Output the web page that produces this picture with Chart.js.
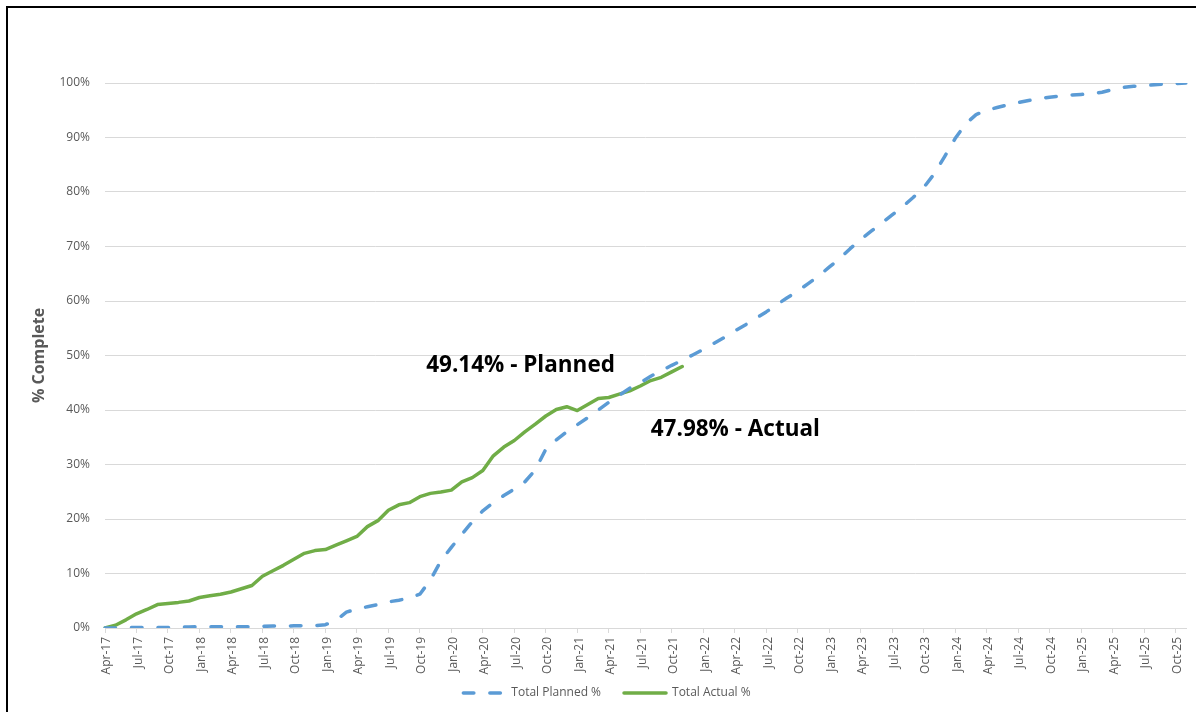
<!DOCTYPE html>
<html><head><meta charset="utf-8">
<script src="https://cdn.jsdelivr.net/npm/chart.js@4.4.1/dist/chart.umd.min.js"></script>
<style>html,body{margin:0;padding:0;background:#fff;}canvas{display:block;}</style>
</head><body>
<canvas id="c" width="1196" height="712"></canvas>
<script>
const categories = [
 'Apr-17','May-17','Jun-17','Jul-17','Aug-17','Sep-17','Oct-17','Nov-17','Dec-17',
 'Jan-18','Feb-18','Mar-18','Apr-18','May-18','Jun-18','Jul-18','Aug-18','Sep-18','Oct-18','Nov-18','Dec-18',
 'Jan-19','Feb-19','Mar-19','Apr-19','May-19','Jun-19','Jul-19','Aug-19','Sep-19','Oct-19','Nov-19','Dec-19',
 'Jan-20','Feb-20','Mar-20','Apr-20','May-20','Jun-20','Jul-20','Aug-20','Sep-20','Oct-20','Nov-20','Dec-20',
 'Jan-21','Feb-21','Mar-21','Apr-21','May-21','Jun-21','Jul-21','Aug-21','Sep-21','Oct-21','Nov-21','Dec-21',
 'Jan-22','Feb-22','Mar-22','Apr-22','May-22','Jun-22','Jul-22','Aug-22','Sep-22','Oct-22','Nov-22','Dec-22',
 'Jan-23','Feb-23','Mar-23','Apr-23','May-23','Jun-23','Jul-23','Aug-23','Sep-23','Oct-23','Nov-23','Dec-23',
 'Jan-24','Feb-24','Mar-24','Apr-24','May-24','Jun-24','Jul-24','Aug-24','Sep-24','Oct-24','Nov-24','Dec-24',
 'Jan-25','Feb-25','Mar-25','Apr-25','May-25','Jun-25','Jul-25','Aug-25','Sep-25','Oct-25','Nov-25'
];
const tickLabels = [
 'Apr-17','Jul-17','Oct-17','Jan-18','Apr-18','Jul-18','Oct-18','Jan-19','Apr-19','Jul-19','Oct-19',
 'Jan-20','Apr-20','Jul-20','Oct-20','Jan-21','Apr-21','Jul-21','Oct-21','Jan-22','Apr-22','Jul-22','Oct-22',
 'Jan-23','Apr-23','Jul-23','Oct-23','Jan-24','Apr-24','Jul-24','Oct-24','Jan-25','Apr-25','Jul-25','Oct-25'
];
const plannedPct = [
 0, 0, 0.05, 0.1, 0.1, 0.1, 0.1, 0.15, 0.2,
 0.25, 0.25, 0.25, 0.25, 0.25, 0.25, 0.3, 0.35, 0.35, 0.4, 0.4, 0.45,
 0.6, 1.4, 2.9, 3.5, 3.9, 4.3, 4.8, 5.1, 5.5, 6.2, 8.8, 12.3,
 14.8, 17.2, 19.5, 21.5, 23.0, 24.3, 25.5, 26.8, 29.0, 32.8, 34.5, 36.0,
 37.3, 38.6, 40.0, 41.4, 42.7, 44.0, 45.0, 46.2, 47.2, 48.2, 49.14, 50.1,
 51.1, 52.2, 53.3, 54.5, 55.6, 56.8, 58.0, 59.3, 60.6, 61.8, 63.2, 64.6,
 66.2, 67.8, 69.6, 71.3, 72.8, 74.3, 75.8, 77.3, 79.0, 80.8, 83.3, 86.5,
 89.8, 92.5, 94.2, 95.0, 95.5, 96.0, 96.4, 96.8, 97.1, 97.4, 97.6, 97.8,
 97.9, 98.0, 98.3, 98.8, 99.2, 99.4, 99.5, 99.7, 99.8, 99.9, 100
];
const actualPct = [
 0, 0.5, 1.5, 2.6, 3.4, 4.3, 4.5, 4.7, 4.95,
 5.6, 5.9, 6.2, 6.6, 7.2, 7.8, 9.5, 10.5, 11.5, 12.6, 13.7, 14.2,
 14.4, 15.2, 16.0, 16.8, 18.6, 19.7, 21.6, 22.6, 23.0, 24.1, 24.7, 24.95,
 25.3, 26.8, 27.6, 28.9, 31.6, 33.2, 34.4, 36.0, 37.4, 38.9, 40.1, 40.6,
 39.9, 41.0, 42.1, 42.3, 42.9, 43.5, 44.4, 45.4, 46.0, 47.0, 47.98
];
const seriesNames = ['Total Planned %', 'Total Actual %'];
const notes = [
  {text: '49.14% - Planned', at: 30.6, value: 47.0},
  {text: '47.98% - Actual', at: 52.0, value: 35.2}
];

const FONT = "'Open Sans', sans-serif";
const GREY = '#595959';

const framePlugin = {
  id: 'frame',
  beforeDraw(chart) {
    const ctx = chart.ctx;
    ctx.save();
    ctx.fillStyle = '#fff';
    ctx.fillRect(0, 0, chart.width, chart.height);
    ctx.strokeStyle = '#000';
    ctx.lineWidth = 2;
    ctx.beginPath();
    ctx.moveTo(7, chart.height + 5);
    ctx.lineTo(7, 7);
    ctx.lineTo(chart.width + 5, 7);
    ctx.stroke();
    ctx.restore();
  }
};
const notePlugin = {
  id: 'notes',
  afterDatasetsDraw(chart) {
    const ctx = chart.ctx, xs = chart.scales.x, ys = chart.scales.y;
    ctx.save();
    ctx.font = "bold 22.5px " + FONT;
    ctx.fillStyle = '#000';
    ctx.textAlign = 'left';
    ctx.textBaseline = 'alphabetic';
    notes.forEach(n => ctx.fillText(n.text, xs.getPixelForValue(n.at), ys.getPixelForValue(n.value)));
    ctx.restore();
  }
};
const legendShift = {
  id: 'legendShift',
  afterLayout(chart) {
    const lg = chart.legend;
    const h = lg.bottom - lg.top;
    lg.left += 10;
    lg.right += 10;
    lg.top = 664;
    lg.bottom = 664 + h;
  }
};

new Chart(document.getElementById('c'), {
  type: 'line',
  data: {
    labels: categories,
    datasets: [
      {
        label: seriesNames[0], data: plannedPct,
        borderColor: '#5B9BD5', backgroundColor: '#5B9BD5',
        borderWidth: 3.5, borderDash: [10.5, 16], borderCapStyle: 'round', borderJoinStyle: 'round',
        pointRadius: 0, pointHoverRadius: 0, tension: 0
      },
      {
        label: seriesNames[1], data: actualPct,
        borderColor: '#70AD47', backgroundColor: '#70AD47',
        borderWidth: 3.5, borderCapStyle: 'round', borderJoinStyle: 'round',
        pointRadius: 0, pointHoverRadius: 0, tension: 0
      }
    ]
  },
  options: {
    responsive: false,
    animation: false,
    events: [],
    layout: {padding: {left: 8, top: 83, right: 10, bottom: 2}},
    scales: {
      x: {
        type: 'category',
        offset: false,
        afterFit(s) { s.height = 50; },
        border: {display: true, color: '#d9d9d9', width: 1},
        grid: {drawOnChartArea: false, drawTicks: true, tickLength: 5, color: '#d9d9d9'},
        ticks: {
          autoSkip: false, maxRotation: 90, minRotation: 90, padding: 4, labelOffset: 2,
          color: GREY, font: {family: FONT, size: 12},
          callback(v) { const l = categories[v]; return tickLabels.includes(l) ? l : null; }
        }
      },
      y: {
        min: 0, max: 100,
        afterFit(s) { s.width = 97; },
        border: {display: false},
        grid: {color: '#d9d9d9', lineWidth: 1, drawTicks: false},
        ticks: {
          stepSize: 10, padding: 15, color: GREY, font: {family: FONT, size: 12},
          callback(v) { return v + '%'; }
        },
        title: {
          display: true, text: '% Complete', color: GREY,
          font: {family: FONT, size: 16, weight: 'bold'}, padding: {top: 22, bottom: 0}
        }
      }
    },
    plugins: {
      legend: {
        position: 'bottom', maxHeight: 32,
        labels: {
          usePointStyle: true, pointStyle: 'line', pointStyleWidth: 42, boxHeight: 12,
          padding: 23, color: GREY, font: {family: FONT, size: 12},
          generateLabels(chart) {
            const items = Chart.defaults.plugins.legend.labels.generateLabels(chart);
            items.forEach((it, i) => {
              const ds = chart.data.datasets[i];
              it.lineDash = ds.borderDash || [];
              it.lineWidth = ds.borderWidth;
              it.lineCap = 'round';
              it.strokeStyle = ds.borderColor;
              it.fillStyle = ds.borderColor;
              it.pointStyle = 'line';
            });
            return items;
          }
        }
      },
      tooltip: {enabled: false}
    }
  },
  plugins: [framePlugin, notePlugin, legendShift]
});
</script>
</body></html>
